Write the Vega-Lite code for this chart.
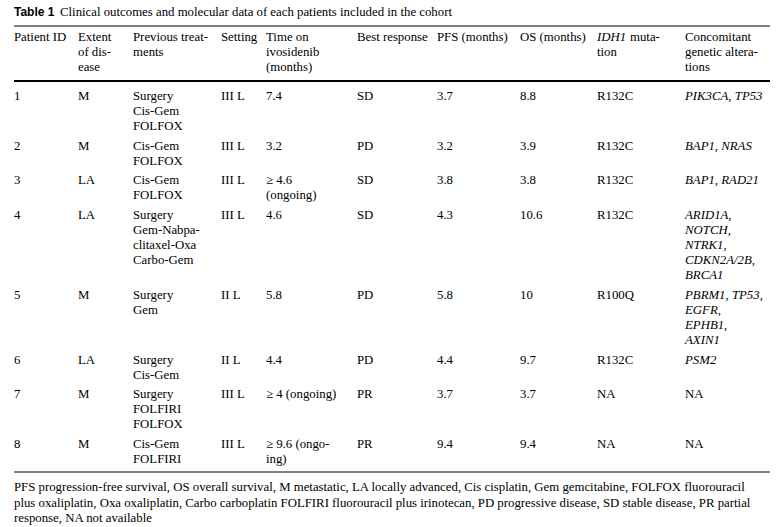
{
  "$schema": "https://vega.github.io/schema/vega-lite/v6.json",
  "width": 780,
  "height": 527,
  "autosize": {"type": "none"},
  "padding": 0,
  "background": "white",
  "config": {
    "view": {"stroke": null},
    "text": {"font": "Liberation Serif", "fontSize": 12.8, "align": "left", "baseline": "alphabetic", "lineHeight": 15, "lineBreak": "\n", "color": "black"},
    "rule": {"color": "black"}
  },
  "datasets": {
    "cells": [
      {"row": 1, "col": 1, "text": "Patient ID"},
      {"row": 1, "col": 2, "text": "Extent\nof dis-\nease"},
      {"row": 1, "col": 3, "text": "Previous treat-\nments"},
      {"row": 1, "col": 4, "text": "Setting"},
      {"row": 1, "col": 5, "text": "Time on\nivosidenib\n(months)"},
      {"row": 1, "col": 6, "text": "Best response"},
      {"row": 1, "col": 7, "text": "PFS (months)"},
      {"row": 1, "col": 8, "text": "OS (months)"},
      {"row": 1, "col": 9, "text": " \ntion"},
      {"row": 1, "col": 10, "text": "Concomitant\ngenetic altera-\ntions"},
      {"row": 2, "col": 1, "text": "1"},
      {"row": 2, "col": 2, "text": "M"},
      {"row": 2, "col": 3, "text": "Surgery\nCis-Gem\nFOLFOX"},
      {"row": 2, "col": 4, "text": "III L"},
      {"row": 2, "col": 5, "text": "7.4"},
      {"row": 2, "col": 6, "text": "SD"},
      {"row": 2, "col": 7, "text": "3.7"},
      {"row": 2, "col": 8, "text": "8.8"},
      {"row": 2, "col": 9, "text": "R132C"},
      {"row": 3, "col": 1, "text": "2"},
      {"row": 3, "col": 2, "text": "M"},
      {"row": 3, "col": 3, "text": "Cis-Gem\nFOLFOX"},
      {"row": 3, "col": 4, "text": "III L"},
      {"row": 3, "col": 5, "text": "3.2"},
      {"row": 3, "col": 6, "text": "PD"},
      {"row": 3, "col": 7, "text": "3.2"},
      {"row": 3, "col": 8, "text": "3.9"},
      {"row": 3, "col": 9, "text": "R132C"},
      {"row": 4, "col": 1, "text": "3"},
      {"row": 4, "col": 2, "text": "LA"},
      {"row": 4, "col": 3, "text": "Cis-Gem\nFOLFOX"},
      {"row": 4, "col": 4, "text": "III L"},
      {"row": 4, "col": 5, "text": "≥ 4.6\n(ongoing)"},
      {"row": 4, "col": 6, "text": "SD"},
      {"row": 4, "col": 7, "text": "3.8"},
      {"row": 4, "col": 8, "text": "3.8"},
      {"row": 4, "col": 9, "text": "R132C"},
      {"row": 5, "col": 1, "text": "4"},
      {"row": 5, "col": 2, "text": "LA"},
      {"row": 5, "col": 3, "text": "Surgery\nGem-Nabpa-\n\u00a0\u00a0clitaxel-Oxa\nCarbo-Gem"},
      {"row": 5, "col": 4, "text": "III L"},
      {"row": 5, "col": 5, "text": "4.6"},
      {"row": 5, "col": 6, "text": "SD"},
      {"row": 5, "col": 7, "text": "4.3"},
      {"row": 5, "col": 8, "text": "10.6"},
      {"row": 5, "col": 9, "text": "R132C"},
      {"row": 6, "col": 1, "text": "5"},
      {"row": 6, "col": 2, "text": "M"},
      {"row": 6, "col": 3, "text": "Surgery\nGem"},
      {"row": 6, "col": 4, "text": "II L"},
      {"row": 6, "col": 5, "text": "5.8"},
      {"row": 6, "col": 6, "text": "PD"},
      {"row": 6, "col": 7, "text": "5.8"},
      {"row": 6, "col": 8, "text": "10"},
      {"row": 6, "col": 9, "text": "R100Q"},
      {"row": 7, "col": 1, "text": "6"},
      {"row": 7, "col": 2, "text": "LA"},
      {"row": 7, "col": 3, "text": "Surgery\nCis-Gem"},
      {"row": 7, "col": 4, "text": "II L"},
      {"row": 7, "col": 5, "text": "4.4"},
      {"row": 7, "col": 6, "text": "PD"},
      {"row": 7, "col": 7, "text": "4.4"},
      {"row": 7, "col": 8, "text": "9.7"},
      {"row": 7, "col": 9, "text": "R132C"},
      {"row": 8, "col": 1, "text": "7"},
      {"row": 8, "col": 2, "text": "M"},
      {"row": 8, "col": 3, "text": "Surgery\nFOLFIRI\nFOLFOX"},
      {"row": 8, "col": 4, "text": "III L"},
      {"row": 8, "col": 5, "text": "≥ 4 (ongoing)"},
      {"row": 8, "col": 6, "text": "PR"},
      {"row": 8, "col": 7, "text": "3.7"},
      {"row": 8, "col": 8, "text": "3.7"},
      {"row": 8, "col": 9, "text": "NA"},
      {"row": 8, "col": 10, "text": "NA"},
      {"row": 9, "col": 1, "text": "8"},
      {"row": 9, "col": 2, "text": "M"},
      {"row": 9, "col": 3, "text": "Cis-Gem\nFOLFIRI"},
      {"row": 9, "col": 4, "text": "III L"},
      {"row": 9, "col": 5, "text": "≥ 9.6 (ongo-\n\u00a0\u00a0ing)"},
      {"row": 9, "col": 6, "text": "PR"},
      {"row": 9, "col": 7, "text": "9.4"},
      {"row": 9, "col": 8, "text": "9.4"},
      {"row": 9, "col": 9, "text": "NA"},
      {"row": 9, "col": 10, "text": "NA"}
    ],
    "genes": [
      {"row": 1, "col": 9, "text": "IDH1"},
      {"row": 2, "col": 10, "text": "PIK3CA, TP53"},
      {"row": 3, "col": 10, "text": "BAP1, NRAS"},
      {"row": 4, "col": 10, "text": "BAP1, RAD21"},
      {"row": 5, "col": 10, "text": "ARID1A,\n\u00a0\u00a0NOTCH,\n\u00a0\u00a0NTRK1,\n\u00a0\u00a0CDKN2A/2B,\n\u00a0\u00a0BRCA1"},
      {"row": 6, "col": 10, "text": "PBRM1, TP53,\n\u00a0\u00a0EGFR,\n\u00a0\u00a0EPHB1,\n\u00a0\u00a0AXIN1"},
      {"row": 7, "col": 10, "text": "PSM2"}
    ],
    "after_gene": [
      {"row": 1, "col": 9, "text": "muta-"}
    ],
    "label": [
      {"row": 0, "col": 1, "text": "Table 1"}
    ],
    "caption": [
      {"row": 0, "col": 1, "text": "Clinical outcomes and molecular data of each patients included in the cohort"}
    ],
    "thin_rules": [
      {"row": 0.5, "col": 1, "col2": 11},
      {"row": 9.5, "col": 1, "col2": 11}
    ],
    "thick_rules": [
      {"row": 1.5, "col": 1, "col2": 11}
    ],
    "footnote": [
      {"row": 10, "col": 1, "text": "PFS progression-free survival, OS overall survival, M metastatic, LA locally advanced, Cis cisplatin, Gem gemcitabine, FOLFOX fluorouracil\nplus oxaliplatin, Oxa oxaliplatin, Carbo carboplatin FOLFIRI fluorouracil plus irinotecan, PD progressive disease, SD stable disease, PR partial\nresponse, NA not available"}
    ]
  },
  "encoding": {
    "x": {"field": "col", "type": "quantitative", "axis": null,
          "scale": {"domain": [1, 2, 3, 4, 5, 6, 7, 8, 9, 10, 11], "range": [14, 78, 133, 221, 266, 357, 437, 520, 597, 685, 770], "nice": false, "zero": false}},
    "y": {"field": "row", "type": "quantitative", "axis": null,
          "scale": {"domain": [0, 0.5, 1, 1.5, 2, 3, 4, 5, 6, 7, 8, 9, 9.5, 10], "range": [16, 26, 41, 81, 100, 150, 184, 218.5, 298.5, 363.5, 398, 448, 472, 491], "nice": false, "zero": false}}
  },
  "layer": [
    {"data": {"name": "thin_rules"}, "mark": {"type": "rule", "strokeWidth": 1}, "encoding": {"x2": {"field": "col2"}}},
    {"data": {"name": "thick_rules"}, "mark": {"type": "rule", "strokeWidth": 2}, "encoding": {"x2": {"field": "col2"}}},
    {"data": {"name": "cells"}, "mark": {"type": "text"}, "encoding": {"text": {"field": "text"}}},
    {"data": {"name": "genes"}, "mark": {"type": "text", "fontStyle": "italic"}, "encoding": {"text": {"field": "text"}}},
    {"data": {"name": "after_gene"}, "mark": {"type": "text", "dx": 33}, "encoding": {"text": {"field": "text"}}},
    {"data": {"name": "label"}, "mark": {"type": "text", "font": "Liberation Sans", "fontWeight": "bold", "fontSize": 12}, "encoding": {"text": {"field": "text"}}},
    {"data": {"name": "caption"}, "mark": {"type": "text", "dx": 46}, "encoding": {"text": {"field": "text"}}},
    {"data": {"name": "footnote"}, "mark": {"type": "text", "fontSize": 12.8, "lineHeight": 15.5}, "encoding": {"text": {"field": "text"}}}
  ]
}
